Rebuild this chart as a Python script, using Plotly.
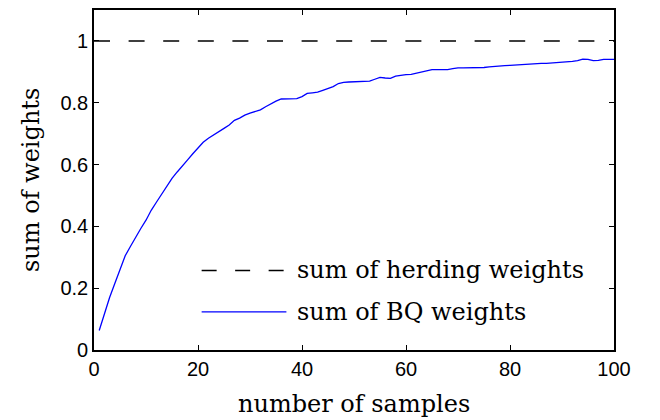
import plotly.graph_objects as go

# number of samples
n_samples = list(range(1, 101))
# sum of BQ weights
bq_weights = [
    0.063, 0.120, 0.170, 0.215, 0.260, 0.305, 0.335, 0.365, 0.393, 0.420,
    0.452, 0.478, 0.505, 0.530, 0.555, 0.576, 0.597, 0.615, 0.635, 0.655,
    0.672, 0.685, 0.695, 0.705, 0.717, 0.728, 0.743, 0.750, 0.760, 0.766,
    0.772, 0.777, 0.787, 0.797, 0.805, 0.812, 0.812, 0.812, 0.813, 0.820,
    0.830, 0.832, 0.834, 0.840, 0.846, 0.852, 0.862, 0.866, 0.867, 0.868,
    0.869, 0.870, 0.870, 0.876, 0.882, 0.880, 0.879, 0.886, 0.889, 0.891,
    0.892, 0.896, 0.900, 0.905, 0.907, 0.907, 0.907, 0.907, 0.910, 0.913,
    0.913, 0.913, 0.913, 0.913, 0.914, 0.916, 0.918, 0.919, 0.920, 0.921,
    0.922, 0.924, 0.926, 0.927, 0.927, 0.927, 0.927, 0.928, 0.930, 0.932,
    0.933, 0.934, 0.936, 0.941, 0.940, 0.936, 0.937, 0.940, 0.940, 0.940,
]
# sum of herding weights
herding_x = [0, 100]
herding_weights = [1.0, 1.0]

x_ticks = [0, 20, 40, 60, 80, 100]
y_ticks = [0, 0.2, 0.4, 0.6, 0.8, 1.0]
y_tick_labels = ["0", "0.2", "0.4", "0.6", "0.8", "1"]
legend_labels = ["sum of herding weights", "sum of BQ weights"]

SERIF = "DejaVu Serif"
SANS = "Liberation Sans"
SERIF_SIZE = 24

fig = go.Figure()
fig.add_trace(go.Scatter(x=herding_x, y=herding_weights, mode="lines",
                         line=dict(color="black", width=1.5, dash="16px,18.6px"),
                         showlegend=False, hoverinfo="skip"))
fig.add_trace(go.Scatter(x=n_samples, y=bq_weights, mode="lines",
                         line=dict(color="#0000ff", width=1.3),
                         showlegend=False))

axis_common = dict(showline=True, linecolor="black", linewidth=1.6, mirror="ticks",
                   ticks="inside", ticklen=5, tickwidth=1.2, tickcolor="black",
                   showgrid=False, zeroline=False,
                   tickfont=dict(family=SANS, size=20, color="black"))

fig.update_xaxes(range=[0, 100], tickvals=x_ticks, **axis_common)
fig.update_yaxes(range=[0, 1.1], tickvals=y_ticks, ticktext=y_tick_labels, **axis_common)

# Legend drawn manually (long sample lines, no box)
shapes = [
    dict(type="line", xref="paper", yref="paper", x0=0.207, x1=0.370, y0=0.234, y1=0.234,
         line=dict(color="black", width=1.5, dash="15px,18.5px")),
    dict(type="line", xref="paper", yref="paper", x0=0.207, x1=0.370, y0=0.112, y1=0.112,
         line=dict(color="#0000ff", width=1.3)),
]
annotations = [
    dict(text=legend_labels[0], xref="paper", yref="paper", x=0.386, y=0.234,
         xanchor="left", yanchor="middle", showarrow=False,
         font=dict(family=SERIF, size=SERIF_SIZE, color="black")),
    dict(text=legend_labels[1], xref="paper", yref="paper", x=0.386, y=0.112,
         xanchor="left", yanchor="middle", showarrow=False,
         font=dict(family=SERIF, size=SERIF_SIZE, color="black")),
    dict(text="number of samples", xref="paper", yref="paper", x=0.5, y=0,
         xanchor="center", yanchor="top", yshift=-38, showarrow=False,
         font=dict(family=SERIF, size=SERIF_SIZE, color="black")),
    dict(text="sum of weights", xref="paper", yref="paper", x=0, y=0.5,
         xanchor="center", yanchor="middle", xshift=-63, textangle=-90, showarrow=False,
         font=dict(family=SERIF, size=SERIF_SIZE, color="black")),
]

# the page body has an 8px default margin, so offsets are compensated here
fig.update_layout(width=660, height=420, margin=dict(l=86, r=54, t=0, b=78),
                  paper_bgcolor="white", plot_bgcolor="white",
                  shapes=shapes, annotations=annotations, showlegend=False)

fig.write_html("out.html")
